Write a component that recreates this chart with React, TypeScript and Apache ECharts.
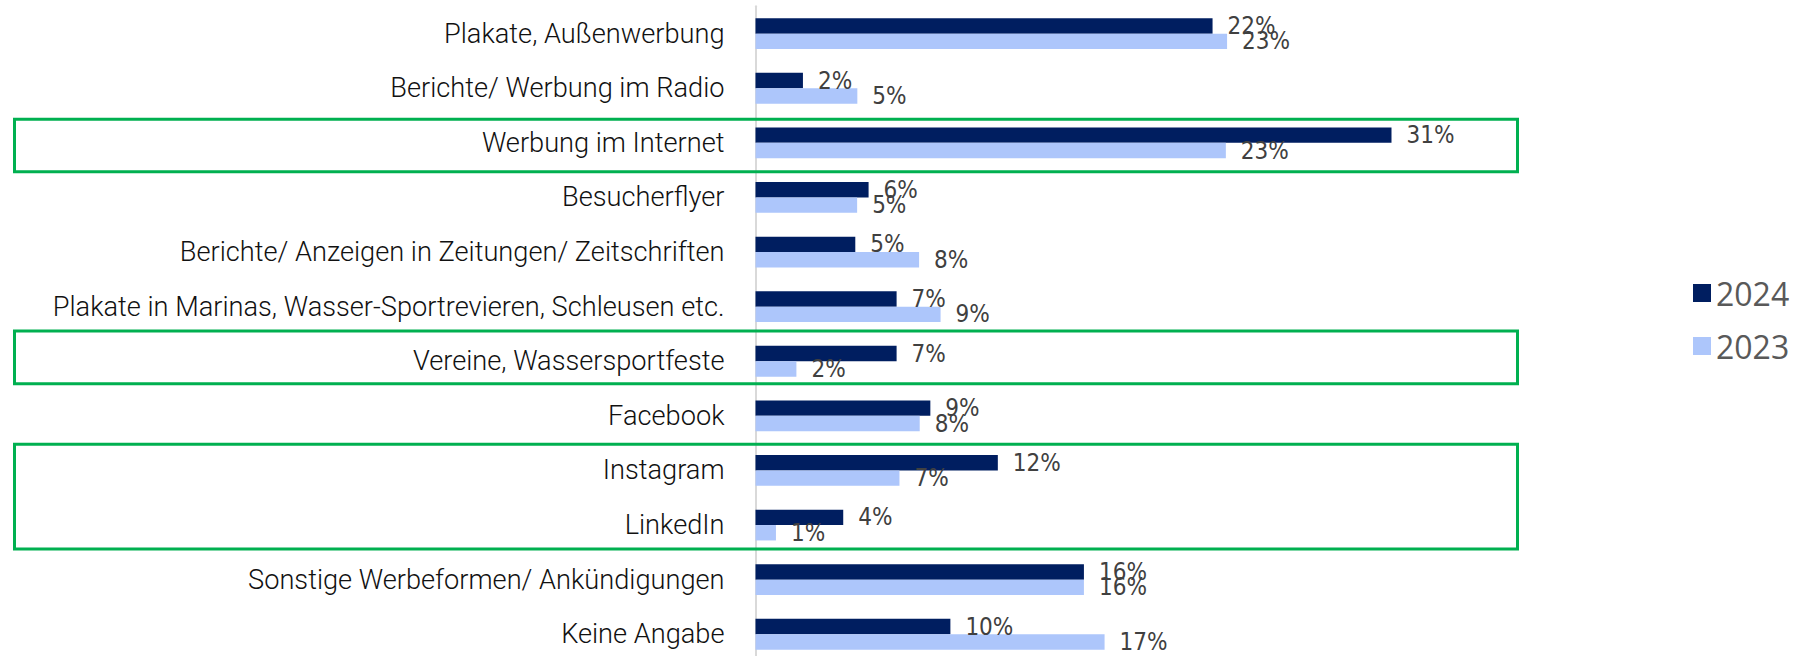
import React, { useEffect, useRef } from "react";
import * as echarts from "echarts";

const categories = [
  "Plakate, Außenwerbung",
  "Berichte/ Werbung im Radio",
  "Werbung im Internet",
  "Besucherflyer",
  "Berichte/ Anzeigen in Zeitungen/ Zeitschriften",
  "Plakate in Marinas, Wasser-Sportrevieren, Schleusen etc.",
  "Vereine, Wassersportfeste",
  "Facebook",
  "Instagram",
  "LinkedIn",
  "Sonstige Werbeformen/ Ankündigungen",
  "Keine Angabe",
];

const seriesNames = ["2024", "2023"];
const values2024 = [22.35, 2.32, 31.1, 5.53, 4.88, 6.9, 6.9, 8.55, 11.85, 4.29, 16.06, 9.53];
const values2023 = [23.06, 4.98, 23.0, 4.97, 8.0, 9.05, 2.0, 8.03, 7.04, 1.0, 16.06, 17.07];

// highlighted category ranges (first index, last index)
const highlightRanges = [
  [2, 2],
  [6, 6],
  [8, 9],
];

const COLORS = ["#001e60", "#adc6fb"];
const BOX_ADJ = [
  [3.7, 1.5],
  [-3, -4.9],
  [1.1, -3.4],
];

export default function App() {
  const ref = useRef<HTMLDivElement>(null);
  useEffect(() => {
    if (!ref.current) return;
    const chart = echarts.init(ref.current, undefined, { renderer: "svg" });
    const pitch = 54.6;
    const pxPer = 20.45;
    const labelStyle = {
      show: true,
      position: "right" as const,
      distance: 15,
      color: "#404040",
      fontSize: 24,
      fontFamily: "'Liberation Sans Narrow', 'DejaVu Sans Condensed', Roboto, sans-serif",
      formatter: (p: any) => Math.round(p.value) + "%",
    };
    chart.setOption({
      animation: false,
      legend: {
        orient: "vertical",
        left: 1688,
        top: 272,
        icon: "rect",
        itemWidth: 18,
        itemHeight: 18,
        itemGap: 21,
        data: seriesNames,
        textStyle: {
          fontFamily: "'Open Sans', 'Noto Sans', sans-serif",
          fontSize: 32,
          lineHeight: 32,
          color: "#595959",
        },
      },
      grid: {
        left: 755.5,
        top: 6.35,
        width: 40 * pxPer,
        height: pitch * categories.length,
        containLabel: false,
        outerBoundsMode: "none",
      },
      xAxis: {
        type: "value",
        min: 0,
        max: 40,
        show: false,
        splitLine: { show: false },
      },
      yAxis: {
        type: "category",
        inverse: true,
        data: categories,
        axisLine: { show: true, lineStyle: { color: "#d9d9d9", width: 2 } },
        axisTick: { show: false },
        axisLabel: {
          margin: 31,
          color: "#111111",
          fontSize: 27.2,
          fontFamily: "Roboto, sans-serif",
          fontWeight: 300,
        },
      },
      series: [
        {
          name: seriesNames[0],
          type: "bar",
          data: values2024,
          barWidth: 15.4,
          barGap: "0%",
          itemStyle: { color: COLORS[0] },
          label: labelStyle,
        },
        {
          name: seriesNames[1],
          type: "bar",
          data: values2023,
          barWidth: 15.4,
          barGap: "0%",
          itemStyle: { color: COLORS[1] },
          label: labelStyle,
        },
      ],
    });
    const graphics = highlightRanges.map(([a, b], i) => {
      const ya = chart.convertToPixel({ yAxisIndex: 0 }, a) as number;
      const yb = chart.convertToPixel({ yAxisIndex: 0 }, b) as number;
      const top = Math.min(ya, yb) - pitch / 2 + BOX_ADJ[i][0];
      const bottom = Math.max(ya, yb) + pitch / 2 + BOX_ADJ[i][1];
      return {
        type: "rect",
        shape: { x: 14.5, y: top, width: 1503, height: bottom - top },
        style: { fill: "none", stroke: "#00b050", lineWidth: 3 },
        z: 10,
      };
    });
    chart.setOption({ graphic: graphics });
    return () => chart.dispose();
  }, []);
  return (
    <div
      ref={ref}
      style={{ position: "absolute", left: 0, top: 0, width: 1796, height: 656, background: "#fff" }}
    />
  );
}
